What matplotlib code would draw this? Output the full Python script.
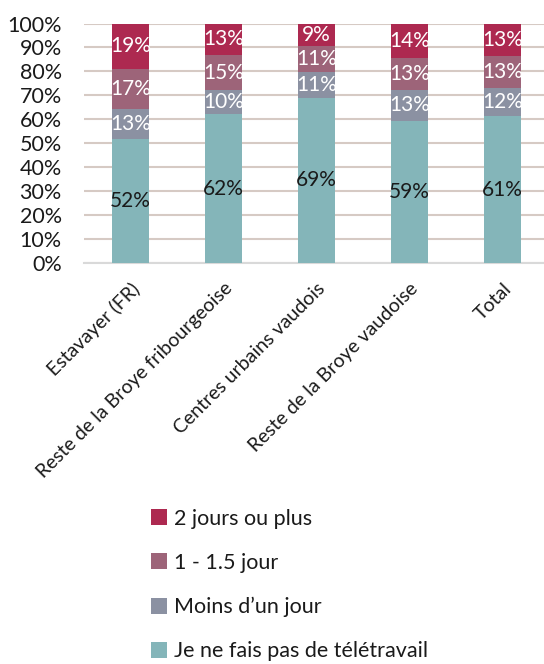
import matplotlib
matplotlib.use("Agg")
import matplotlib.pyplot as plt
import numpy as np

categories = ["Estavayer (FR)", "Reste de la Broye fribourgeoise",
              "Centres urbains vaudois", "Reste de la Broye vaudoise", "Total"]
series_names = ["Je ne fais pas de télétravail", "Moins d\u2019un jour",
                "1 - 1.5 jour", "2 jours ou plus"]
no_telework = [51.6, 62.1, 69.0, 59.4, 61.2]
less_one_day = [12.9, 10.0, 10.6, 13.0, 12.0]
one_day = [16.6, 14.6, 10.8, 13.3, 13.2]
two_days = [18.9, 13.3, 9.6, 14.3, 13.6]
labels_vals = [
    [52, 62, 69, 59, 61],
    [13, 10, 11, 13, 12],
    [17, 15, 11, 13, 13],
    [19, 13, 9, 14, 13],
]
yticks = [0, 10, 20, 30, 40, 50, 60, 70, 80, 90, 100]

colors = ["#84b5b9", "#8b91a2", "#9d6479", "#ad2950"]
text_colors = ["#1a1a1a", "white", "white", "white"]

plt.rcParams['font.family'] = ['Lato', 'DejaVu Sans']

fig = plt.figure(figsize=(5.44, 6.64), dpi=100)
ax = fig.add_axes([84/544, 401/664, 465/544, 239.5/664])

series = [no_telework, less_one_day, one_day, two_days]
x = np.arange(len(categories))
bottom = np.zeros(len(categories))
handles = []
for vals, col, tcol, labs, name in zip(series, colors, text_colors, labels_vals, series_names):
    vals = np.array(vals)
    b = ax.bar(x, vals, 0.4, bottom=bottom, color=col, label=name, zorder=3)
    handles.append(b)
    for xi, v, bt, lab in zip(x, vals, bottom, labs):
        ax.text(xi, bt + v/2, f"{lab}%", ha='center', va='center',
                color=tcol, fontsize=15, zorder=4)
    bottom += vals

ax.set_xlim(-0.5, 4.5)
ax.set_ylim(0, 100)
ax.set_yticks(yticks)
ax.set_yticklabels([f"{t}%" for t in yticks], fontsize=15.5, color="#1a1a1a")
ax.yaxis.grid(True, color="#d6cac4", linewidth=1.5, zorder=0)
ax.tick_params(axis='y', length=0, pad=16)
ax.tick_params(axis='x', length=0, pad=12)
ax.set_xticks(x)
ax.set_xticklabels(categories, rotation=45, ha='right', rotation_mode='anchor',
                   fontsize=14, color="#1a1a1a")
for s in ['top', 'right', 'left']:
    ax.spines[s].set_visible(False)
ax.spines['bottom'].set_color("#d9d9d9")
ax.spines['bottom'].set_linewidth(1.5)

leg = fig.legend(handles[::-1], series_names[::-1], loc='upper left',
                 bbox_to_anchor=(142/544, 1 - 500/664), frameon=False,
                 fontsize=15.5, handlelength=0.78, handleheight=0.78,
                 handletextpad=0.3, labelspacing=1.12, borderaxespad=0)
for t in leg.get_texts():
    t.set_color("#1a1a1a")

fig.savefig("out.png", dpi=100)
